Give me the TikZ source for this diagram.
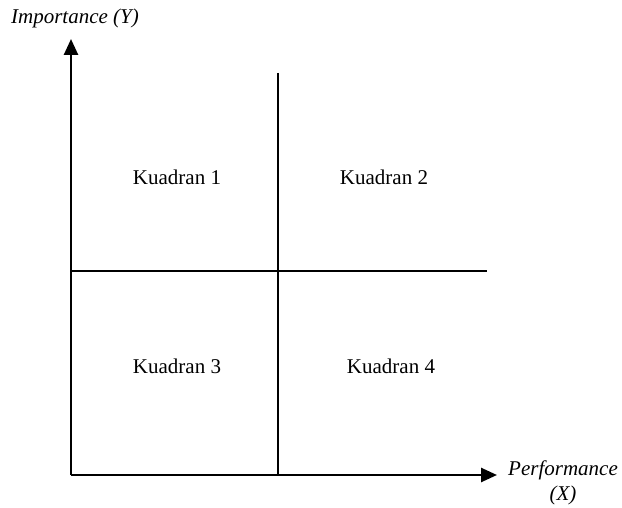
\documentclass[tikz,border=0pt]{standalone}
\usepackage{fontspec}
\setmainfont{Liberation Serif}
\usetikzlibrary{arrows.meta}
\begin{document}
\begin{tikzpicture}[x=1pt,y=-1pt,
  axis/.style={line width=2.6pt,-{Triangle[length=16pt,width=14pt]}},
  divider/.style={line width=1.7pt},
  lbl/.style={font=\fontsize{21}{25}\selectfont,inner sep=0pt},
  axlbl/.style={font=\fontsize{21}{25}\selectfont\itshape,inner sep=0pt,align=center}]
\useasboundingbox (0,0) rectangle (622,508);
\coordinate (O) at (71,475);
\coordinate (ytip) at (71,39);
\coordinate (xtip) at (497,475);
\coordinate (vtop) at (278,73);
\coordinate (vbot) at (278,475);
\coordinate (hl) at (71,271);
\coordinate (hr) at (487,271);
\draw[divider] (vtop) -- (vbot);
\draw[divider] (hl) -- (hr);
\draw[axis] (O) -- (ytip);
\draw[axis] (O) -- (xtip);
\node[axlbl] (ylab) at (75,18) {Importance (Y)};
\node[axlbl] (xlab) at (563,483) {Performance\\(X)};
\node[lbl] (k1) at (177,177) {Kuadran 1};
\node[lbl] (k2) at (384,177) {Kuadran 2};
\node[lbl] (k3) at (177,366) {Kuadran 3};
\node[lbl] (k4) at (391,366) {Kuadran 4};
\end{tikzpicture}
\end{document}
